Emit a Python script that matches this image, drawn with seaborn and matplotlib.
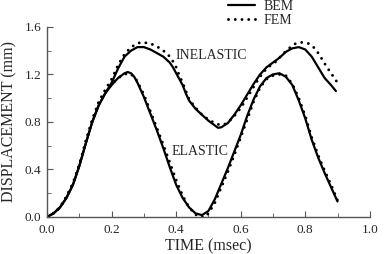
import matplotlib
matplotlib.use("Agg")
import matplotlib.pyplot as plt
import seaborn as sns
from matplotlib.ticker import MultipleLocator

# Elastic response, BEM and FEM
t_el_bem = [0.00, 0.02, 0.04, 0.06, 0.08, 0.10, 0.12, 0.14, 0.16, 0.18, 0.20, 0.22, 0.24, 0.25,
            0.26, 0.27, 0.28, 0.30, 0.32, 0.34, 0.36, 0.38, 0.40, 0.42, 0.44, 0.46, 0.48, 0.50,
            0.52, 0.54, 0.56, 0.58, 0.60, 0.62, 0.64, 0.66, 0.68, 0.70, 0.72, 0.74, 0.76, 0.78,
            0.80, 0.82, 0.84, 0.86, 0.88, 0.90]
d_el_bem = [0.00, 0.03, 0.08, 0.16, 0.27, 0.43, 0.62, 0.80, 0.94, 1.04, 1.11, 1.17, 1.21, 1.22,
            1.21, 1.18, 1.13, 1.01, 0.87, 0.73, 0.58, 0.42, 0.27, 0.16, 0.08, 0.03, 0.015, 0.05,
            0.15, 0.28, 0.41, 0.55, 0.69, 0.85, 0.99, 1.10, 1.17, 1.20, 1.21, 1.18, 1.11, 0.98,
            0.83, 0.65, 0.50, 0.37, 0.25, 0.13]
t_el_fem = [0.00, 0.02, 0.04, 0.06, 0.08, 0.10, 0.12, 0.14, 0.16, 0.18, 0.20, 0.22, 0.24, 0.25,
            0.26, 0.27, 0.28, 0.30, 0.32, 0.34, 0.36, 0.38, 0.40, 0.42, 0.44, 0.46, 0.475, 0.49,
            0.50, 0.52, 0.54, 0.56, 0.58, 0.60, 0.62, 0.64, 0.66, 0.68, 0.70, 0.72, 0.74, 0.76,
            0.78, 0.80, 0.82, 0.84, 0.86, 0.88, 0.90]
d_el_fem = [0.00, 0.03, 0.08, 0.17, 0.28, 0.44, 0.63, 0.81, 0.95, 1.05, 1.12, 1.17, 1.20, 1.21,
            1.20, 1.18, 1.14, 1.03, 0.89, 0.75, 0.61, 0.46, 0.31, 0.18, 0.08, 0.02, 0.00, 0.00,
            0.03, 0.12, 0.25, 0.38, 0.52, 0.67, 0.82, 0.97, 1.09, 1.16, 1.19, 1.20, 1.19, 1.12,
            1.00, 0.85, 0.67, 0.52, 0.39, 0.27, 0.14]

# Inelastic response, BEM and FEM
t_in_bem = [0.00, 0.02, 0.04, 0.06, 0.08, 0.10, 0.12, 0.14, 0.16, 0.18, 0.20, 0.22, 0.24, 0.26,
            0.28, 0.30, 0.32, 0.34, 0.36, 0.38, 0.39, 0.40, 0.42, 0.43, 0.44, 0.46, 0.48, 0.50,
            0.52, 0.53, 0.54, 0.56, 0.58, 0.60, 0.62, 0.64, 0.66, 0.68, 0.70, 0.72, 0.74, 0.76,
            0.78, 0.80, 0.82, 0.84, 0.86, 0.88, 0.895]
d_in_bem = [0.00, 0.03, 0.08, 0.16, 0.27, 0.43, 0.62, 0.80, 0.94, 1.04, 1.13, 1.25, 1.35, 1.40,
            1.43, 1.43, 1.41, 1.38, 1.35, 1.30, 1.26, 1.21, 1.11, 1.04, 0.98, 0.91, 0.86, 0.81,
            0.77, 0.75, 0.755, 0.79, 0.86, 0.94, 1.03, 1.12, 1.20, 1.26, 1.30, 1.34, 1.39, 1.42,
            1.43, 1.41, 1.35, 1.26, 1.17, 1.11, 1.06]
t_in_fem = [0.00, 0.02, 0.04, 0.06, 0.08, 0.10, 0.12, 0.14, 0.16, 0.18, 0.20, 0.22, 0.24, 0.26,
            0.28, 0.29, 0.31, 0.33, 0.35, 0.37, 0.38, 0.39, 0.40, 0.41, 0.42, 0.43, 0.44, 0.46,
            0.48, 0.50, 0.52, 0.535, 0.55, 0.57, 0.59, 0.61, 0.63, 0.65, 0.67, 0.69, 0.71, 0.73,
            0.75, 0.77, 0.79, 0.81, 0.83, 0.845, 0.865, 0.885, 0.90]
d_in_fem = [0.00, 0.03, 0.08, 0.17, 0.28, 0.44, 0.64, 0.82, 0.97, 1.07, 1.16, 1.28, 1.37, 1.43,
            1.46, 1.47, 1.465, 1.45, 1.42, 1.38, 1.35, 1.31, 1.26, 1.19, 1.13, 1.06, 0.99, 0.92,
            0.86, 0.82, 0.79, 0.775, 0.78, 0.82, 0.88, 0.96, 1.05, 1.14, 1.22, 1.27, 1.31, 1.37,
            1.42, 1.46, 1.47, 1.46, 1.42, 1.36, 1.27, 1.19, 1.13]

sns.set_style("ticks")
plt.rcParams["font.family"] = ["Liberation Serif", "DejaVu Serif"]

fig = plt.figure(figsize=(3.86, 2.54), dpi=100)
ax = fig.add_axes([0.122, 0.146, 0.836, 0.748])

solid = dict(color="black", linewidth=1.6, solid_joinstyle="round")
dotted = dict(color="black", linewidth=2.1, linestyle=(0, (0.01, 2.3)), dash_capstyle="round")

sns.lineplot(x=t_el_bem, y=d_el_bem, ax=ax, **solid)
sns.lineplot(x=t_in_bem, y=d_in_bem, ax=ax, label="BEM", **solid)
sns.lineplot(x=t_el_fem, y=d_el_fem, ax=ax, **dotted)
sns.lineplot(x=t_in_fem, y=d_in_fem, ax=ax, label="FEM", **dotted)

ax.set_xlim(0, 1.0)
ax.set_ylim(0, 1.6)
ax.xaxis.set_major_locator(MultipleLocator(0.2))
ax.xaxis.set_minor_locator(MultipleLocator(0.1))
ax.yaxis.set_major_locator(MultipleLocator(0.4))
ax.yaxis.set_minor_locator(MultipleLocator(0.2))
ax.xaxis.set_major_formatter(lambda v, p: f"{v:.1f}")
ax.yaxis.set_major_formatter(lambda v, p: f"{v:.1f}")
ax.tick_params(which="both", direction="in", labelsize=9.5, color="#555555", pad=4)
ax.tick_params(axis="x", pad=5)
ax.tick_params(which="major", length=4)
ax.tick_params(which="minor", length=3)
for s in ["left", "bottom"]:
    ax.spines[s].set_color("#555555")
    ax.spines[s].set_linewidth(1.0)
sns.despine(ax=ax)

ax.set_xlabel("TIME (msec)", fontsize=11.5, labelpad=1.5)
ax.set_ylabel("DISPLACEMENT (mm)", fontsize=11.5, labelpad=5)

ax.text(0.398, 1.36, "INELASTIC", fontsize=10, va="center", ha="left")
ax.text(0.385, 0.55, "ELASTIC", fontsize=10, va="center", ha="left")

fig.legend(loc="upper left", bbox_to_anchor=(228 / 386, 1.0), frameon=False, fontsize=10,
           handlelength=1.95, handletextpad=0.6, labelspacing=0.05, borderpad=0,
           borderaxespad=0)
ax.get_legend().remove()

fig.savefig("out.png", dpi=100)
